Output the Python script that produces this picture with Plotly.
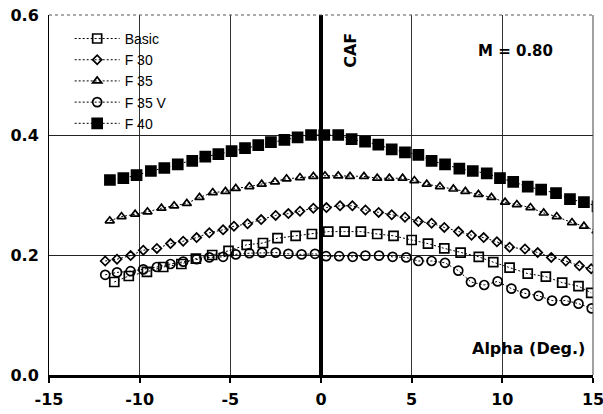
import plotly.graph_objects as go

# Angle of attack (deg) and CAF for each configuration
alpha_basic = [-11.4, -10.6, -9.6, -8.7, -7.7, -6.9, -6.0, -5.1, -4.1, -3.2, -2.4, -1.4, -0.5,
               0.4, 1.3, 2.2, 3.1, 4.0, 5.0, 5.9, 6.8, 7.7, 8.7, 9.5, 10.4, 11.4, 12.4, 13.3,
               14.2, 14.9]
caf_basic = [0.155, 0.165, 0.172, 0.180, 0.185, 0.194, 0.200, 0.207, 0.217, 0.220, 0.228,
             0.232, 0.235, 0.239, 0.239, 0.239, 0.235, 0.232, 0.225, 0.219, 0.211, 0.204,
             0.197, 0.188, 0.179, 0.169, 0.164, 0.154, 0.148, 0.137]

alpha_f30 = [-11.9, -11.25, -10.5, -9.8, -9.05, -8.3, -7.6, -6.86, -6.16, -5.4, -4.8, -4.05,
             -3.3, -2.5, -1.8, -1.16, -0.42, 0.3, 1.05, 1.73, 2.45, 3.18, 3.9, 4.63, 5.37,
             6.1, 6.8, 7.58, 8.3, 8.97, 9.7, 10.4, 11.25, 11.95, 12.7, 13.5, 14.25, 14.9, 15.6]
caf_f30 = [0.190, 0.193, 0.199, 0.208, 0.211, 0.219, 0.223, 0.229, 0.237, 0.242, 0.248, 0.252,
           0.259, 0.266, 0.269, 0.273, 0.278, 0.279, 0.282, 0.282, 0.275, 0.271, 0.267, 0.263,
           0.256, 0.253, 0.246, 0.239, 0.233, 0.229, 0.222, 0.213, 0.210, 0.204, 0.196, 0.190,
           0.182, 0.177, 0.168]

alpha_f35 = [-11.65, -11.0, -10.25, -9.57, -8.8, -8.1, -7.4, -6.7, -5.97, -5.27, -4.7, -3.95,
             -3.27, -2.54, -1.9, -1.16, -0.42, 0.22, 0.95, 1.6, 2.37, 3.1, 3.77, 4.5, 5.15,
             5.83, 6.56, 7.3, 7.96, 8.68, 9.4, 10.15, 10.8, 11.55, 12.28, 13.0, 13.84, 14.5, 15.2]
caf_f35 = [0.257, 0.264, 0.268, 0.272, 0.278, 0.282, 0.286, 0.296, 0.304, 0.306, 0.311, 0.314,
           0.318, 0.322, 0.327, 0.329, 0.331, 0.332, 0.332, 0.331, 0.331, 0.328, 0.328, 0.328,
           0.324, 0.318, 0.314, 0.310, 0.306, 0.301, 0.296, 0.288, 0.284, 0.279, 0.270, 0.264,
           0.254, 0.248, 0.240]

alpha_f35v = [-11.9, -11.25, -10.5, -9.8, -9.05, -8.3, -7.6, -6.86, -6.16, -5.4, -4.7, -3.95,
              -3.25, -2.5, -1.8, -1.07, -0.33, 0.28, 1.0, 1.75, 2.45, 3.2, 3.95, 4.7, 5.37,
              6.1, 6.84, 7.57, 8.27, 9.0, 9.74, 10.5, 11.25, 12.0, 12.74, 13.5, 14.2, 14.93]
caf_f35v = [0.167, 0.171, 0.173, 0.176, 0.180, 0.185, 0.189, 0.193, 0.196, 0.197, 0.201, 0.203,
            0.204, 0.204, 0.202, 0.201, 0.202, 0.198, 0.198, 0.197, 0.199, 0.199, 0.197, 0.196,
            0.190, 0.190, 0.187, 0.174, 0.155, 0.150, 0.156, 0.144, 0.136, 0.132, 0.124, 0.124,
            0.119, 0.111]

alpha_f40 = [-11.64, -10.9, -10.17, -9.38, -8.64, -7.9, -7.1, -6.38, -5.66, -4.93, -4.19, -3.46,
             -2.76, -2.02, -1.29, -0.55, 0.18, 0.95, 1.69, 2.43, 3.16, 3.9, 4.63, 5.37, 6.1,
             6.84, 7.63, 8.37, 9.14, 9.87, 10.6, 11.4, 12.14, 12.96, 13.73, 14.5, 15.25]
caf_f40 = [0.325, 0.328, 0.333, 0.340, 0.345, 0.351, 0.357, 0.364, 0.368, 0.373, 0.378, 0.383,
           0.388, 0.392, 0.396, 0.400, 0.400, 0.400, 0.393, 0.389, 0.384, 0.376, 0.371, 0.367,
           0.357, 0.351, 0.344, 0.340, 0.336, 0.328, 0.322, 0.314, 0.309, 0.303, 0.293, 0.288,
           0.281]

x_ticks = [-15, -10, -5, 0, 5, 10, 15]
y_ticks = [0.0, 0.2, 0.4, 0.6]

series = [
    ("Basic", alpha_basic, caf_basic, "square-open", 9),
    ("F 30", alpha_f30, caf_f30, "diamond-open", 7),
    ("F 35", alpha_f35, caf_f35, "triangle-up-open", 8),
    ("F 35 V", alpha_f35v, caf_f35v, "circle-open", 9),
    ("F 40", alpha_f40, caf_f40, "square", 10),
]

fig = go.Figure()
for name, xs, ys, sym, size in series:
    fig.add_trace(go.Scatter(
        x=xs, y=ys, name=name, mode="lines+markers",
        line=dict(color="black", width=1, dash="2px,2px"),
        marker=dict(symbol=sym, size=size, color="black",
                    line=dict(color="black", width=1.7)),
        cliponaxis=True,
    ))

bold = dict(family="DejaVu Sans", size=16, color="black", weight="bold")


def label(text, x, y, size, angle=0):
    return dict(text=text, xref="paper", yref="paper", x=x, y=y, textangle=angle,
                xanchor="center", yanchor="middle", showarrow=False,
                font=dict(family="DejaVu Sans", size=size, color="black", weight="bold"))


fig.update_layout(
    width=603, height=414,
    margin=dict(l=49, r=10, t=15, b=39, autoexpand=False),
    paper_bgcolor="white", plot_bgcolor="white",
    showlegend=True,
    legend=dict(x=0.038, y=0.978, xanchor="left", yanchor="top",
                bgcolor="rgba(0,0,0,0)", borderwidth=0, traceorder="normal",
                font=dict(family="Liberation Sans", size=14, color="black"),
                itemwidth=45, tracegroupgap=0),
    xaxis=dict(range=[-15, 15], tickvals=x_ticks, ticktext=[str(v) for v in x_ticks],
               showgrid=True, gridcolor="#333", gridwidth=1,
               zeroline=True, zerolinecolor="black", zerolinewidth=4,
               showline=True, linecolor="black", linewidth=3,
               ticks="outside", ticklen=5, tickwidth=2, tickcolor="black",
               ticklabeloverflow="allow", ticklabelstandoff=3, automargin=False,
               tickfont=bold),
    yaxis=dict(range=[0, 0.6], tickvals=y_ticks, ticktext=[f"{v:.1f}" for v in y_ticks],
               showgrid=True, gridcolor="#222", gridwidth=1,
               zeroline=False, showline=True, linecolor="black", linewidth=1,
               ticks="", tickfont=bold, ticklabelstandoff=6, automargin=False),
    shapes=[
        dict(type="line", xref="paper", yref="paper", x0=0, x1=1, y0=1, y1=1,
             line=dict(color="#555", width=1, dash="dot")),
        dict(type="line", xref="paper", yref="paper", x0=1, x1=1, y0=0, y1=1,
             line=dict(color="#444", width=1)),
    ],
    annotations=[
        label("CAF", 0.555, 0.903, 16, -90),
        label("M = 0.80", 0.858, 0.899, 15),
        label("Alpha (Deg.)", 0.882, 0.075, 16),
    ],
)

fig.write_html("out.html")
